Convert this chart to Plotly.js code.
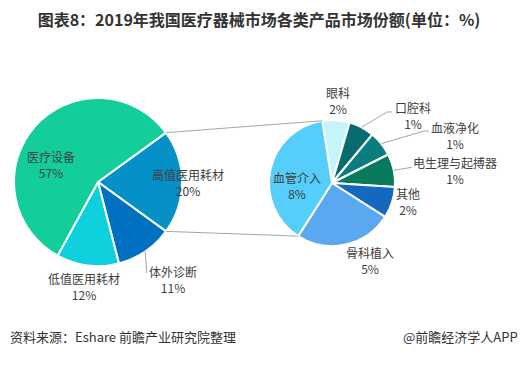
<!DOCTYPE html>
<html><head><meta charset="utf-8">
<script src="https://cdn.plot.ly/plotly-3.0.1.min.js"></script>
<style>html,body{margin:0;padding:0;background:#fff}#chart{width:523px;height:366px}</style>
</head><body><div id="chart"></div>
<script>
// ---- data ----
const mainLabels = ['高值医用耗材', '体外诊断', '低值医用耗材', '医疗设备'];
const mainValues = [20, 11, 12, 57];
const mainText = ['20%', '11%', '12%', '57%'];
const subLabels = ['眼科', '口腔科', '血液净化', '电生理与起搏器', '其他', '骨科植入', '血管介入'];
const subValues = [1.4, 1.3, 1.3, 1.7, 1.6, 5.0, 7.7];
const subText = ['2%', '1%', '1%', '1%', '2%', '5%', '8%'];
const titleText = '图表8：2019年我国医疗器械市场各类产品市场份额(单位：%)';
const sourceText = '资料来源：Eshare 前瞻产业研究院整理';
const creditText = '@前瞻经济学人APP';

// ---- styles / layout geometry ----
const mainColors = ['#0590C8', '#0070C0', '#0FD0DD', '#13CE9A'];
const subColors = ['#C6F4FB', '#0A6B6E', '#0A7D7F', '#0A7A5C', '#1468BE', '#5AA9F0', '#55CEFC'];
const W = 523, H = 366;
const FONT = '"Noto Sans CJK SC", "Microsoft YaHei", sans-serif';
const TXT = '#404040', LINE = '#A6A6A6';
const L = {cx: 98, cy: 182, r: 84};
const R = {cx: 332, cy: 183, r: 63};
const sumMain = mainValues.reduce((a, b) => a + b, 0);
const sumSub = subValues.reduce((a, b) => a + b, 0);
L.rot = 90 - 180 * mainValues[0] / sumMain;
R.rot = -8.9;

function domainOf(p) {
  return {x: [(p.cx - p.r) / W, (p.cx + p.r) / W], y: [1 - (p.cy + p.r) / H, 1 - (p.cy - p.r) / H]};
}
function pt(p, ang, k) {
  const a = ang * Math.PI / 180;
  return [p.cx + k * p.r * Math.sin(a), p.cy - k * p.r * Math.cos(a)];
}
function rel(p, dx, dy) { return [p.cx + dx * p.r, p.cy + dy * p.r]; }
function px2paper(q) { return [q[0] / W, 1 - q[1] / H]; }
function sliceAngles(vals, sum, rot) {
  let a = rot; const out = [];
  vals.forEach(v => { const s = a; a += 360 * v / sum; out.push([s, a, (s + a) / 2]); });
  return out;
}
const angL = sliceAngles(mainValues, sumMain, L.rot);
const angR = sliceAngles(subValues, sumSub, R.rot);

const traces = [
  {type: 'pie', labels: mainLabels, values: mainValues, sort: false, direction: 'clockwise',
   rotation: L.rot, domain: domainOf(L), textinfo: 'none', hoverinfo: 'none', showlegend: false,
   marker: {colors: mainColors, line: {color: '#ffffff', width: 2}}},
  {type: 'pie', labels: subLabels, values: subValues, sort: false, direction: 'clockwise',
   rotation: R.rot, domain: domainOf(R), textinfo: 'none', hoverinfo: 'none', showlegend: false,
   marker: {colors: subColors, line: {color: '#ffffff', width: 2}}}
];

// label placements (radius units relative to pie centre)
const mainPos = [[1.07, 0], [0.89, 1.16], [-0.17, 1.24], [-0.56, -0.21]];
const subPos = [[0.095, -1.31], [1.286, -1.079], [1.952, -0.754], [1.952, -0.198], [1.206, 0.294], [0.603, 1.23], [-0.556, 0.032]];

const annotations = [];
function addLabel(p, pos, name, val) {
  const q = px2paper(rel(p, pos[0], pos[1]));
  annotations.push({xref: 'paper', yref: 'paper', x: q[0], y: q[1], xanchor: 'center', yanchor: 'middle',
    text: name + '<br>' + val, showarrow: false, align: 'center', font: {family: FONT, size: 12, color: TXT}});
}
mainLabels.forEach((n, i) => addLabel(L, mainPos[i], n, mainText[i]));
subLabels.forEach((n, i) => addLabel(R, subPos[i], n, subText[i]));

annotations.push({xref: 'paper', yref: 'paper', x: 8 / W, y: 1 - 336 / H, xanchor: 'left', yanchor: 'middle',
  text: sourceText, showarrow: false, font: {family: FONT, size: 13, color: '#333333'}});
annotations.push({xref: 'paper', yref: 'paper', x: 520 / W, y: 1 - 336 / H, xanchor: 'right', yanchor: 'middle',
  text: creditText, showarrow: false, font: {family: FONT, size: 13, color: '#333333'}});

const shapes = [];
function pathShape(points) {
  const d = points.map((q, i) => { const pp = px2paper(q); return (i ? 'L' : 'M') + pp[0].toFixed(5) + ',' + pp[1].toFixed(5); }).join(' ');
  shapes.push({type: 'path', xref: 'paper', yref: 'paper', path: d, line: {color: LINE, width: 1}});
}
// connectors between the 高值医用耗材 slice and the breakdown pie
const lastR = angR[angR.length - 1];
pathShape([pt(L, angL[0][0], 1), pt(R, lastR[1], 1)]);
pathShape([pt(L, angL[0][1], 1), pt(R, lastR[0], 1)]);
// leader lines
pathShape([pt(L, angL[1][2], 1), rel(L, 0.58, 1.083)]);
pathShape([pt(R, angR[1][2], 1), rel(R, 0.873, -1.127), rel(R, 0.952, -1.127)]);
pathShape([pt(R, angR[2][2], 1), rel(R, 1.46, -0.825), rel(R, 1.54, -0.825)]);
pathShape([pt(R, angR[3][2], 1), rel(R, 1.265, -0.249)]);

const layout = {
  width: W, height: H, margin: {l: 0, r: 0, t: 0, b: 0},
  paper_bgcolor: '#ffffff', plot_bgcolor: '#ffffff', showlegend: false,
  title: {text: '<b>' + titleText + '</b>', x: 259 / W, xanchor: 'center', y: 1 - 20 / H, yanchor: 'middle',
    font: {family: FONT, size: 16, color: '#333333'}},
  annotations: annotations, shapes: shapes
};
Plotly.newPlot('chart', traces, layout, {displayModeBar: false, staticPlot: true});
</script>
</body></html>
